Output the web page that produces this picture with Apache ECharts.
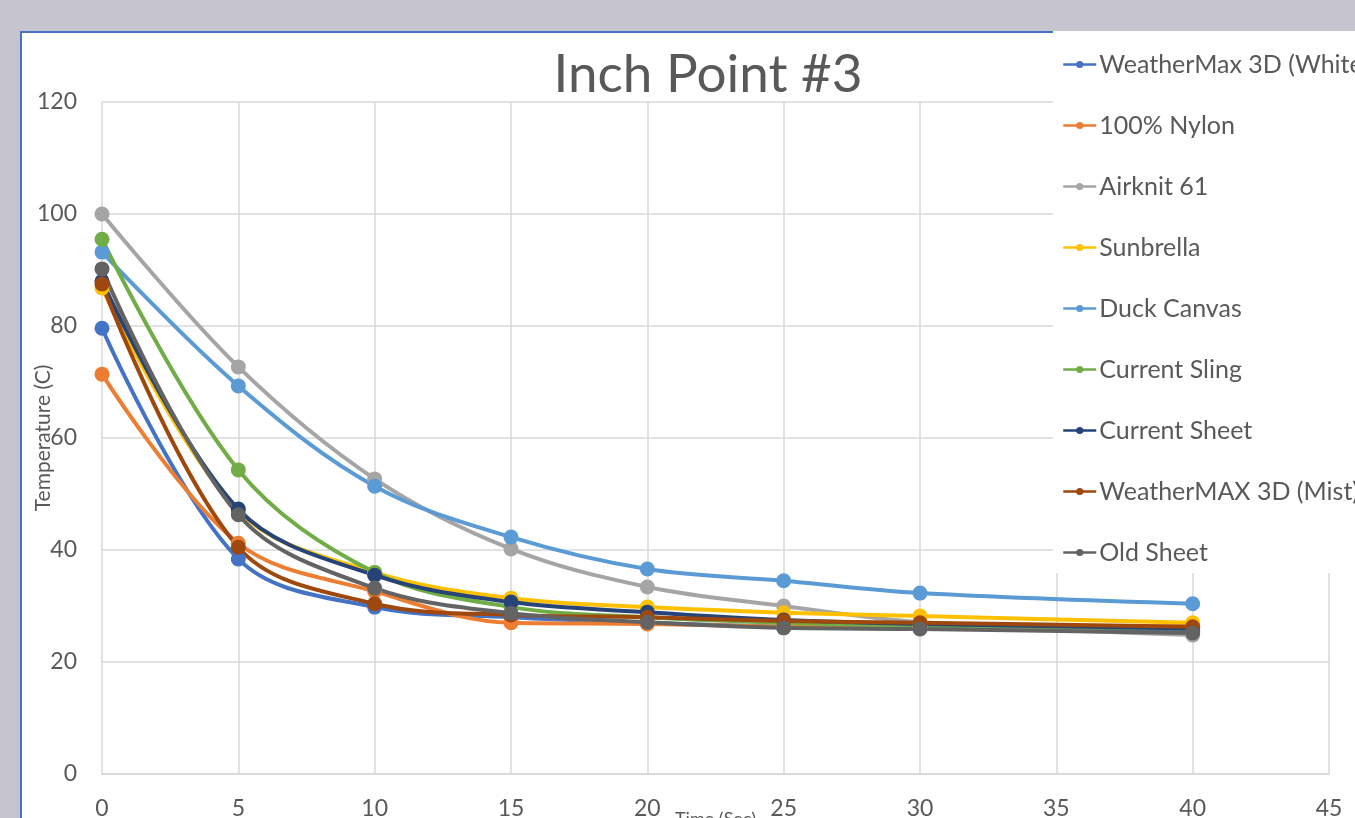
<!DOCTYPE html>
<html>
<head>
<meta charset="utf-8">
<script src="https://cdn.jsdelivr.net/npm/echarts@6/dist/echarts.min.js"></script>
<style>
  html, body { margin: 0; padding: 0; width: 1355px; height: 818px; overflow: hidden; background: #c6c5cf; }
  #frame { position: absolute; left: 20px; top: 31px; width: 1400px; height: 900px; background: #ffffff; border-left: 2px solid #4472c4; border-top: 2px solid #4472c4; }
  #chart { position: absolute; left: 0; top: 0; width: 1355px; height: 818px; }
</style>
</head>
<body>
<div id="frame"></div>
<div id="chart"></div>
<script>
const times = [0, 5, 10, 15, 20, 25, 30, 40];
const seriesNames = [
  'WeatherMax 3D (White)', '100% Nylon', 'Airknit 61', 'Sunbrella', 'Duck Canvas',
  'Current Sling', 'Current Sheet', 'WeatherMAX 3D (Mist)', 'Old Sheet'
];
const colors = ['#4472c4', '#ed7d31', '#a5a5a5', '#ffc000', '#5b9bd5', '#70ad47', '#264478', '#9e480e', '#636363'];
const weatherMaxWhite = [79.6, 38.4, 29.8, 28.0, 27.0, 26.3, 26.0, 25.5];
const nylon100 = [71.4, 41.2, 32.6, 27.0, 26.8, 26.3, 26.1, 26.4];
const airknit61 = [100, 72.7, 52.7, 40.2, 33.4, 30.0, 27.1, 24.8];
const sunbrella = [86.8, 47.0, 36.0, 31.4, 29.8, 28.8, 28.2, 27.0];
const duckCanvas = [93.2, 69.3, 51.4, 42.3, 36.6, 34.5, 32.3, 30.4];
const currentSling = [95.5, 54.3, 36.0, 29.8, 28.0, 27.0, 26.5, 26.0];
const currentSheet = [88.0, 47.3, 35.5, 30.7, 28.9, 27.5, 26.8, 26.0];
const weatherMaxMist = [87.5, 40.5, 30.4, 28.4, 28.0, 27.3, 27.0, 26.3];
const oldSheet = [90.2, 46.3, 33.2, 28.7, 27.1, 26.1, 25.9, 25.2];
const allValues = [weatherMaxWhite, nylon100, airknit61, sunbrella, duckCanvas, currentSling, currentSheet, weatherMaxMist, oldSheet];
const xTicks = [0, 5, 10, 15, 20, 25, 30, 35, 40, 45];
const yTicks = [0, 20, 40, 60, 80, 100, 120];

const FONT = 'Lato, "Open Sans", sans-serif';
const chart = echarts.init(document.getElementById('chart'), null, { renderer: 'canvas' });

const series = seriesNames.map((name, i) => ({
  name: name,
  type: 'line',
  data: times.map((t, j) => [t, allValues[i][j]]),
  smooth: 0.35,
  symbol: 'circle',
  symbolSize: 15,
  lineStyle: { width: 4, color: colors[i] },
  itemStyle: { color: colors[i] },
  emphasis: { disabled: true },
  animation: false
}));

chart.setOption({
  backgroundColor: 'transparent',
  animation: false,
  title: {
    text: 'Inch Point #3',
    left: 703,
    top: 43,
    textAlign: 'center',
    textStyle: { fontFamily: FONT, fontSize: 53, fontWeight: 'normal', color: '#595959' }
  },
  legend: {
    orient: 'vertical',
    left: 1053,
    top: 31,
    padding: [21, 10, 8, 9],
    backgroundColor: '#ffffff',
    itemWidth: 33,
    itemHeight: 9,
    itemGap: 36,
    lineStyle: { width: 2.5 },
    textStyle: { fontFamily: FONT, fontSize: 25, color: '#595959', lineHeight: 25, padding: [0, 0, 0, -2] },
    data: seriesNames
  },
  grid: { left: 102, right: 26, top: 102, bottom: 44, containLabel: false, outerBoundsMode: 'none' },
  xAxis: {
    type: 'value',
    min: xTicks[0],
    max: xTicks[xTicks.length - 1],
    interval: 5,
    name: 'Time (Sec)',
    nameLocation: 'middle',
    nameGap: 36,
    nameMoveOverlap: false,
    nameTextStyle: { fontFamily: FONT, fontSize: 18, color: '#595959' },
    axisLine: { show: true, lineStyle: { color: '#d9d9d9', width: 2 } },
    axisTick: { show: false },
    axisLabel: { fontFamily: FONT, fontSize: 23, color: '#595959', margin: 23 },
    splitLine: { show: true, lineStyle: { color: '#d9d9d9', width: 1.5 } }
  },
  yAxis: {
    type: 'value',
    min: yTicks[0],
    max: yTicks[yTicks.length - 1],
    interval: 20,
    name: 'Temperature (C)',
    nameLocation: 'middle',
    nameGap: 48,
    nameMoveOverlap: false,
    nameTextStyle: { fontFamily: FONT, fontSize: 21, color: '#595959' },
    axisLine: { show: false },
    axisTick: { show: false },
    axisLabel: { fontFamily: FONT, fontSize: 23, color: '#595959', margin: 25 },
    splitLine: { show: true, lineStyle: { color: '#d9d9d9', width: 1.5 } }
  },
  series: series
});
</script>
</body>
</html>
